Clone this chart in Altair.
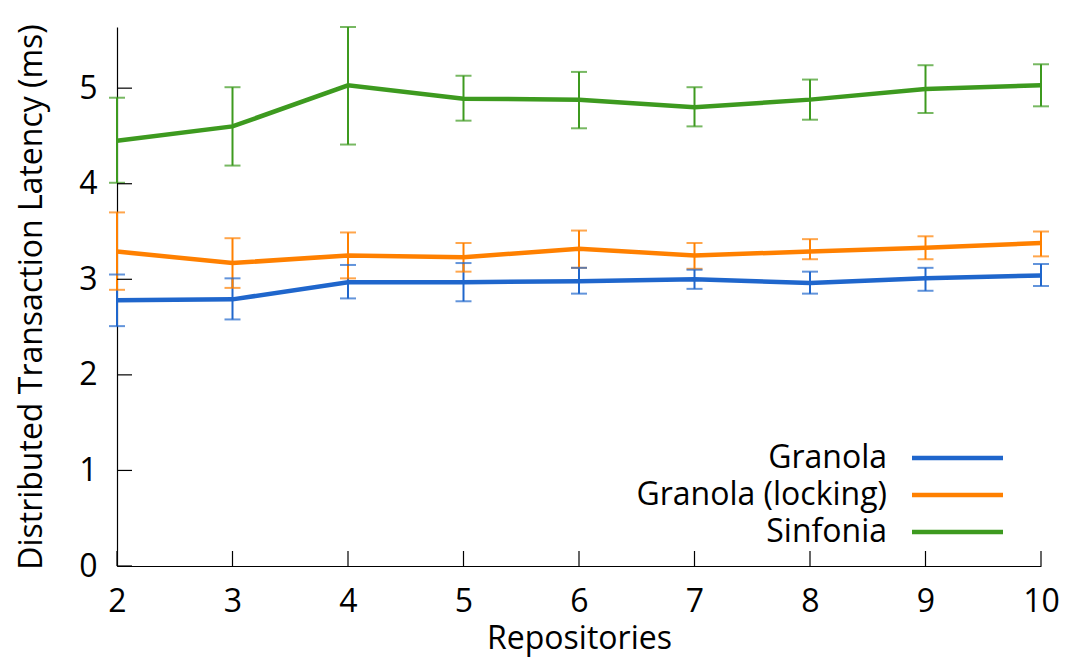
import altair as alt
import pandas as pd

repos = [2, 3, 4, 5, 6, 7, 8, 9, 10]
series = ["Granola", "Granola (locking)", "Sinfonia"]
colors = ["#1f66cc", "#ff8000", "#3d9a1f"]

granola = [2.78, 2.79, 2.97, 2.97, 2.98, 3.00, 2.96, 3.01, 3.04]
granola_lo = [2.51, 2.58, 2.80, 2.77, 2.85, 2.90, 2.85, 2.88, 2.93]
granola_hi = [3.05, 3.01, 3.15, 3.17, 3.12, 3.10, 3.08, 3.12, 3.16]

locking = [3.29, 3.17, 3.25, 3.23, 3.32, 3.25, 3.29, 3.33, 3.38]
locking_lo = [2.89, 2.91, 3.01, 3.08, 3.12, 3.11, 3.21, 3.21, 3.24]
locking_hi = [3.70, 3.43, 3.49, 3.38, 3.51, 3.38, 3.42, 3.45, 3.50]

sinfonia = [4.45, 4.60, 5.03, 4.89, 4.88, 4.80, 4.88, 4.99, 5.03]
sinfonia_lo = [4.01, 4.19, 4.41, 4.66, 4.58, 4.60, 4.67, 4.74, 4.81]
sinfonia_hi = [4.90, 5.01, 5.64, 5.13, 5.17, 5.01, 5.09, 5.24, 5.25]

y_ticks = [0, 1, 2, 3, 4, 5]
x_ticks = repos

rows = []
for name, m, lo, hi in [
    (series[0], granola, granola_lo, granola_hi),
    (series[1], locking, locking_lo, locking_hi),
    (series[2], sinfonia, sinfonia_lo, sinfonia_hi),
]:
    for r, a, b, c in zip(repos, m, lo, hi):
        rows.append({"series": name, "repos": r, "mean": a, "lo": b, "hi": c})
df = pd.DataFrame(rows)

FONT = "Open Sans"
W, H = 924, 539
YMAX = 5.64

xscale = alt.Scale(domain=[2, 10], nice=False, zero=False)
yscale = alt.Scale(domain=[0, YMAX], nice=False)
cscale = alt.Scale(domain=series, range=colors)

base = alt.Chart(df)

lines = base.mark_line(strokeWidth=4.5).encode(
    x=alt.X("repos:Q", scale=xscale,
            axis=alt.Axis(values=x_ticks, title="Repositories", ticks=False, tickSize=0,
                          grid=False, labelPadding=20, titlePadding=6, format="d",
                          labelFlush=False)),
    y=alt.Y("mean:Q", scale=yscale,
            axis=alt.Axis(values=y_ticks, title="Distributed Transaction Latency (ms)",
                          ticks=False, tickSize=0, grid=False, labelPadding=20,
                          titlePadding=30, format="d", labelFlush=False)),
    color=alt.Color("series:N", scale=cscale, legend=None),
    detail="series:N",
)

err = base.mark_rule(strokeWidth=2).encode(
    x="repos:Q", y="lo:Q", y2="hi:Q",
    color=alt.Color("series:N", scale=cscale, legend=None),
)
cap_lo = base.mark_tick(orient="horizontal", size=16, thickness=2).encode(
    x="repos:Q", y="lo:Q",
    color=alt.Color("series:N", scale=cscale, legend=None),
)
cap_hi = base.mark_tick(orient="horizontal", size=16, thickness=2).encode(
    x="repos:Q", y="hi:Q",
    color=alt.Color("series:N", scale=cscale, legend=None),
)

ytick_df = pd.DataFrame({"v": y_ticks})
xtick_df = pd.DataFrame({"v": x_ticks})
yticks = alt.Chart(ytick_df).mark_rule(color="black", strokeWidth=1.2).encode(
    y="v:Q", x=alt.value(0), x2=alt.value(15)
)
xticks = alt.Chart(xtick_df).mark_rule(color="black", strokeWidth=1.2).encode(
    x="v:Q", y=alt.value(H - 15), y2=alt.value(H)
)

data_layer = alt.layer(lines, err, cap_lo, cap_hi, yticks, xticks)

leg_df = pd.DataFrame({"series": series, "idx": [0, 1, 2]})
leg_y = alt.Y("idx:Q", scale=alt.Scale(domain=[0, 2], range=[431, 505]), axis=None)
leg_text = alt.Chart(leg_df).mark_text(
    align="right", baseline="middle", font=FONT, fontSize=32, color="black"
).encode(x=alt.value(770), y=leg_y, text="series:N")
leg_line = alt.Chart(leg_df).mark_rule(strokeWidth=4.5).encode(
    x=alt.value(795), x2=alt.value(886), y=leg_y,
    color=alt.Color("series:N", scale=cscale, legend=None),
)
legend_layer = alt.layer(leg_text, leg_line)

chart = alt.layer(data_layer, legend_layer).resolve_scale(y="independent").properties(
    width=W, height=H,
    autosize=alt.AutoSizeParams(type="none"),
    padding={"left": 117, "top": 27, "right": 29, "bottom": 96},
).configure_view(stroke=None).configure_axis(
    labelFont=FONT, titleFont=FONT, labelFontSize=32, titleFontSize=32,
    labelColor="black", titleColor="black", titleFontWeight="normal",
    domainColor="black", domainWidth=1.2,
)

chart.save("out.html", embed_options={"renderer": "svg", "actions": False})
